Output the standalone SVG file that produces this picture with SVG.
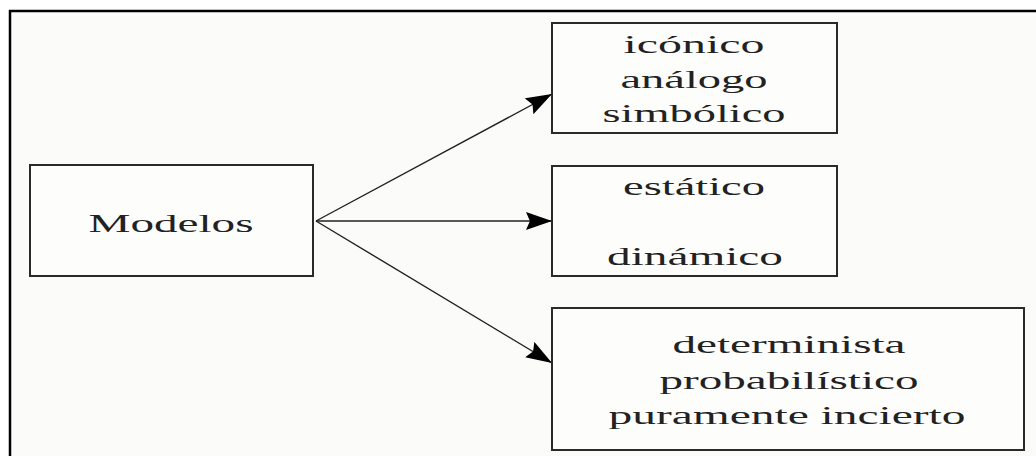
<svg xmlns="http://www.w3.org/2000/svg" width="1036" height="456" viewBox="0 0 1036 456">
  <defs>
    <marker id="arr" viewBox="0 0 10 10" refX="10" refY="5" markerWidth="26" markerHeight="18" markerUnits="userSpaceOnUse" orient="auto" preserveAspectRatio="none">
      <path d="M0,0 L10,5 L0,10 L1.5,5 z" fill="#000"/>
    </marker>
    <style>
      .box { fill: #fdfdfc; stroke: #2a2a2a; stroke-width: 2; }
      .lbl { font-family: "Liberation Serif", "DejaVu Serif", serif; font-size: 25px; fill: #222; text-anchor: middle; }
      .edge { stroke: #222; stroke-width: 1.4; fill: none; marker-end: url(#arr); }
    </style>
  </defs>
  <rect x="0" y="0" width="1036" height="456" fill="#ffffff"/>
  <rect x="10" y="11" width="1026" height="445" fill="#fbfcfa"/>
  <path d="M10,456 L10,11 L1036,11" fill="none" stroke="#000" stroke-width="2.5"/>

  <g id="connectors">
    <line class="edge" x1="316" y1="221" x2="552" y2="94"/>
    <line class="edge" x1="316" y1="221" x2="552" y2="221"/>
    <line class="edge" x1="316" y1="221" x2="552" y2="363"/>
  </g>

  <g id="node-modelos">
    <rect class="box" x="30" y="165" width="283" height="111"/>
    <text class="lbl" x="171" y="232" textLength="165" lengthAdjust="spacingAndGlyphs">Modelos</text>
  </g>

  <g id="node-tipo1">
    <rect class="box" x="552" y="23" width="285" height="110"/>
    <text class="lbl" x="694" y="53" textLength="141" lengthAdjust="spacingAndGlyphs">icónico</text>
    <text class="lbl" x="694" y="88" textLength="147" lengthAdjust="spacingAndGlyphs">análogo</text>
    <text class="lbl" x="694" y="122" textLength="183" lengthAdjust="spacingAndGlyphs">simbólico</text>
  </g>

  <g id="node-tipo2">
    <rect class="box" x="552" y="166" width="285" height="110"/>
    <text class="lbl" x="694" y="195" textLength="142" lengthAdjust="spacingAndGlyphs">estático</text>
    <text class="lbl" x="695" y="265" textLength="176" lengthAdjust="spacingAndGlyphs">dinámico</text>
  </g>

  <g id="node-tipo3">
    <rect class="box" x="552" y="308" width="472" height="142"/>
    <text class="lbl" x="789" y="353" textLength="233" lengthAdjust="spacingAndGlyphs">determinista</text>
    <text class="lbl" x="789" y="389" textLength="259" lengthAdjust="spacingAndGlyphs">probabilístico</text>
    <text class="lbl" x="787" y="424" textLength="357" lengthAdjust="spacingAndGlyphs">puramente incierto</text>
  </g>
</svg>
